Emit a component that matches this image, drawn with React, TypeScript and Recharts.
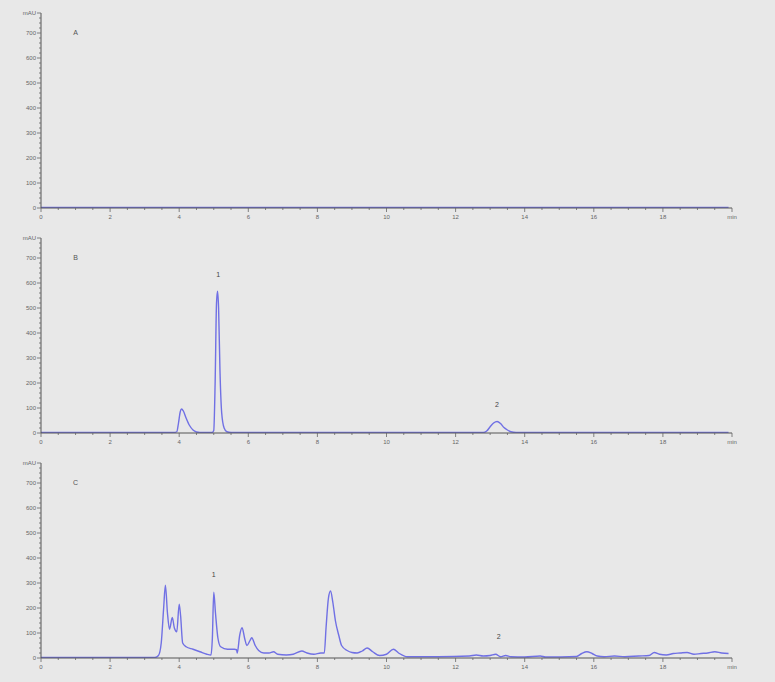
import React from "react";
import { LineChart, Line, XAxis, YAxis, ReferenceDot } from "recharts";

// retention time (min) / absorbance (mAU)
const aTime = [0, 2, 4, 6, 8, 10, 12, 14, 16, 18, 19.9];
const aAbs = [2, 2, 2, 2, 2, 2, 2, 2, 2, 2, 2];

const bTime = [0, 3.85, 3.93, 3.98, 4.03, 4.07, 4.12, 4.2, 4.3, 4.4, 4.5, 4.6, 4.95, 5.0, 5.04, 5.08, 5.11, 5.14, 5.18, 5.23, 5.3, 5.38, 5.5, 12.8, 12.9, 13.0, 13.1, 13.2, 13.3, 13.4, 13.5, 13.6, 13.75, 19.9];
const bAbs = [2, 2, 5, 40, 85, 96, 88, 60, 30, 12, 4, 2, 2, 10, 200, 520, 567, 500, 250, 80, 20, 5, 2, 2, 8, 25, 40, 46, 38, 22, 12, 5, 2, 2];

const cTime = [0, 3.3, 3.4, 3.48, 3.55, 3.6, 3.66, 3.72, 3.8, 3.86, 3.93, 4.0, 4.04, 4.1, 4.2, 4.4, 4.6, 4.8, 4.92, 4.96, 5.0, 5.05, 5.12, 5.2, 5.4, 5.6, 5.66, 5.68, 5.75, 5.82, 5.9, 5.96, 6.05, 6.1, 6.2, 6.3, 6.45, 6.6, 6.73, 6.85, 7.1, 7.3, 7.55, 7.7, 7.9, 8.1, 8.2, 8.25, 8.32, 8.38, 8.45, 8.52, 8.62, 8.7, 8.86, 9.0, 9.15, 9.3, 9.44, 9.6, 9.8, 10.0, 10.2, 10.35, 10.6, 11.5, 12.4, 12.6, 12.8, 13.0, 13.16, 13.3, 13.45, 13.6, 14.0, 14.45, 14.6, 15.5, 15.65, 15.8, 15.95, 16.1, 16.3, 16.6, 16.9, 17.3, 17.6, 17.75, 17.9, 18.1, 18.3, 18.5, 18.7, 18.9, 19.1, 19.3, 19.5, 19.7, 19.9];
const cAbs = [2, 2, 10, 60, 200, 291, 180, 115, 162, 120, 105, 215, 170, 60, 45, 35, 25, 15, 12, 80, 263, 180, 80, 45, 35, 35, 33, 20, 90, 121, 75, 50, 70, 81, 50, 30, 20, 20, 25, 15, 12, 15, 28, 20, 15, 20, 20, 120, 240, 268, 220, 150, 90, 50, 30, 22, 20, 28, 40, 25, 10, 15, 35, 20, 5, 5, 8, 12, 8, 10, 15, 5, 10, 5, 4, 8, 4, 6, 18, 25, 18, 8, 5, 8, 5, 8, 10, 22, 15, 12, 18, 20, 22, 15, 18, 20, 25, 20, 18];

const xMajor = [0, 2, 4, 6, 8, 10, 12, 14, 16, 18];
const yMajor = [0, 100, 200, 300, 400, 500, 600, 700];
const xUnit = "min";
const yUnit = "mAU";

const X_END = 20;
const Y_TOP = 780;
const xTicks = Array.from({ length: X_END * 2 + 1 }, (_, i) => i / 2);
const yTicks = Array.from({ length: Y_TOP / 20 + 1 }, (_, i) => i * 20);

const panels = [
  { letter: "A", time: aTime, abs: aAbs, peaks: [] as { text: string; t: number; v: number }[] },
  { letter: "B", time: bTime, abs: bAbs, peaks: [{ text: "1", t: 5.13, v: 632 }, { text: "2", t: 13.2, v: 113 }] },
  { letter: "C", time: cTime, abs: cAbs, peaks: [{ text: "1", t: 5.0, v: 332 }, { text: "2", t: 13.25, v: 85 }] },
];

const FONT = "'Liberation Sans', Arial, sans-serif";
const AXIS = "#666";
const TRACE = "#7070e4";

const XTick = (props: any) => {
  const { x, y, payload } = props;
  const v = payload.value as number;
  const major = Math.abs(v % 2) < 1e-6;
  return (
    <g>
      <line x1={x} x2={x} y1={y} y2={y + (major ? 4 : 2)} stroke={AXIS} strokeWidth={0.8} />
      {major && (
        <text x={x} y={y + 11} textAnchor="middle" fontSize={6} fill={AXIS} fontFamily={FONT}>
          {v === X_END ? xUnit : xMajor.includes(v) ? String(v) : ""}
        </text>
      )}
    </g>
  );
};

const YTick = (props: any) => {
  const { x, y, payload } = props;
  const v = payload.value as number;
  const major = yMajor.includes(v) || v === Y_TOP;
  return (
    <g>
      <line x1={x - (major ? 4 : 2)} x2={x} y1={y} y2={y} stroke={AXIS} strokeWidth={0.8} />
      {major && (
        <text x={x - 5} y={y + 2} textAnchor="end" fontSize={6} fill={AXIS} fontFamily={FONT}>
          {v === Y_TOP ? yUnit : String(v)}
        </text>
      )}
    </g>
  );
};

const Panel = ({ p }: { p: (typeof panels)[number] }) => {
  const rows = p.time.map((t, i) => ({ t, v: p.abs[i] }));
  return (
    <LineChart width={775} height={225} data={rows} margin={{ top: 13, right: 43, left: 11, bottom: 0 }}>
      <XAxis
        dataKey="t"
        type="number"
        domain={[0, X_END]}
        ticks={xTicks}
        interval={0}
        tick={<XTick />}
        tickLine={false}
        tickSize={0}
        tickMargin={0}
        height={17}
        stroke="#555"
        allowDataOverflow
      />
      <YAxis
        type="number"
        domain={[0, Y_TOP]}
        ticks={yTicks}
        interval={0}
        tick={<YTick />}
        tickLine={false}
        tickSize={0}
        tickMargin={0}
        width={30}
        stroke="#555"
        allowDataOverflow
      />
      <Line
        type="monotone"
        dataKey="v"
        stroke={TRACE}
        strokeWidth={1.4}
        dot={false}
        isAnimationActive={false}
      />
      <ReferenceDot
        x={1}
        y={700}
        r={0}
        fill="none"
        stroke="none"
        label={{ value: p.letter, position: "center", fontSize: 7, fill: "#555", fontFamily: FONT }}
      />
      {p.peaks.map((pk, i) => (
        <ReferenceDot
          key={i}
          x={pk.t}
          y={pk.v}
          r={0}
          fill="none"
          stroke="none"
          label={{ value: pk.text, position: "center", fontSize: 7, fill: "#444", fontFamily: FONT }}
        />
      ))}
    </LineChart>
  );
};

export default function App() {
  return (
    <div
      style={{
        position: "absolute",
        left: 0,
        top: 0,
        width: 775,
        height: 682,
        background: "#e8e8e8",
        fontFamily: FONT,
      }}
    >
      {panels.map((p) => (
        <Panel key={p.letter} p={p} />
      ))}
    </div>
  );
}
